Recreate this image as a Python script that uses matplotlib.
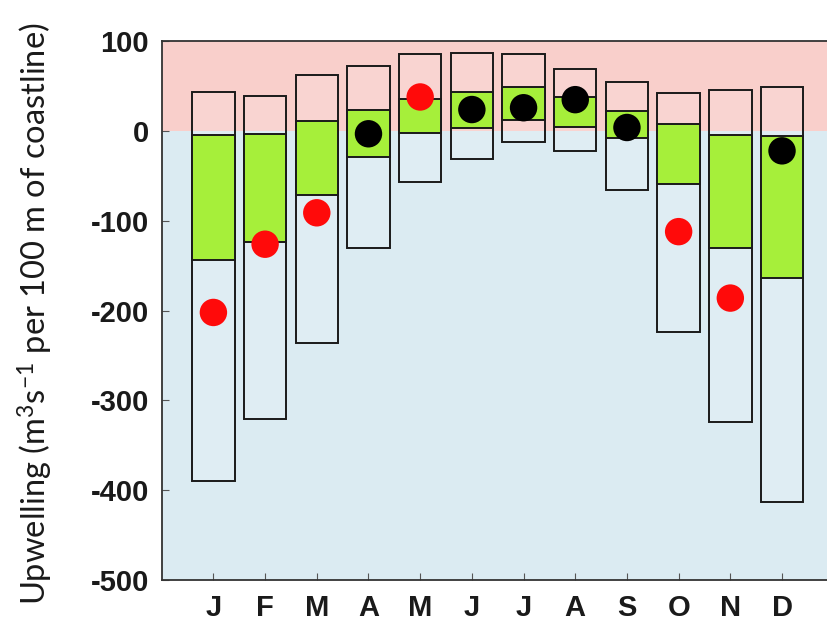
import matplotlib.pyplot as plt
import numpy as np

plt.rcParams['axes.unicode_minus'] = False
plt.rcParams['mathtext.fontset'] = 'custom'
plt.rcParams['mathtext.rm'] = 'Lato'
plt.rcParams['mathtext.it'] = 'Lato:italic'

# Monthly upwelling statistics per 100 m of coastline
months = ['J', 'F', 'M', 'A', 'M', 'J', 'J', 'A', 'S', 'O', 'N', 'D']
range_max = [44, 39, 63, 73, 86, 87, 86, 69, 55, 42, 46, 49]
range_min = [-390, -321, -236, -130, -57, -31, -12, -22, -66, -224, -324, -413]
iqr_top = [-4, -3, 11, 24, 36, 44, 49, 38, 22, 8, -4, -6]
iqr_bottom = [-144, -124, -71, -29, -2, 3, 12, 5, -8, -59, -130, -164]
observed = [-202, -126, -91, -3, 38, 24, 26, 35, 4, -112, -186, -22]
outside_iqr = [True, True, True, False, True, False, False, False, False, True, True, False]

x = np.arange(1, len(months) + 1)

fig = plt.figure(figsize=(8.28, 6.22), dpi=100)
ax = fig.add_axes([0.1953, 0.0675, 0.8116, 0.8661])

# Downwelling / upwelling background
ax.axhspan(0, 100, color='#f9cfcb', zorder=0, lw=0)
ax.axhspan(-500, 0, color='#dbebf2', zorder=0, lw=0)

# Full range boxes
ax.bar(x, np.array(range_max) - np.array(range_min), bottom=range_min, width=0.82,
       facecolor=(1, 1, 1, 0.12), edgecolor='#1a1a1a', linewidth=1.4, zorder=2)

# Interquartile boxes
ax.bar(x, np.array(iqr_top) - np.array(iqr_bottom), bottom=iqr_bottom, width=0.82,
       facecolor='#a6ef3a', edgecolor='#1a1a1a', linewidth=1.4, zorder=3)

dot_colors = ['#ff0a0a' if o else '#000000' for o in outside_iqr]
ax.scatter(x, observed, s=390, c=dot_colors, zorder=4, linewidths=0)

ax.set_xlim(0, 13)
ax.set_ylim(-500, 100)
ax.set_xticks(x)
ax.set_xticklabels(months)
ax.set_yticks(np.arange(-500, 101, 100))

for lbl in ax.get_xticklabels() + ax.get_yticklabels():
    lbl.set_fontfamily('Liberation Sans')
    lbl.set_fontweight('bold')
    lbl.set_fontsize(21)
    lbl.set_color('#1a1a1a')

ax.tick_params(axis='x', direction='in', length=5, width=0.8, color='#555555', pad=10)
ax.tick_params(axis='y', direction='in', length=5, width=0.8, color='#555555', pad=9)

for side in ['left', 'bottom', 'top']:
    ax.spines[side].set_linewidth(1.3)
    ax.spines[side].set_color('#333333')
ax.spines['right'].set_visible(False)

fig.text(0.043, 0.495, 'Upwelling (m$^{3}$s$^{-1}$ per 100 m of coastline)', rotation=90,
         ha='center', va='center', fontsize=23.5, family='Lato', color='#1a1a1a')

fig.savefig('out.png', dpi=100)
